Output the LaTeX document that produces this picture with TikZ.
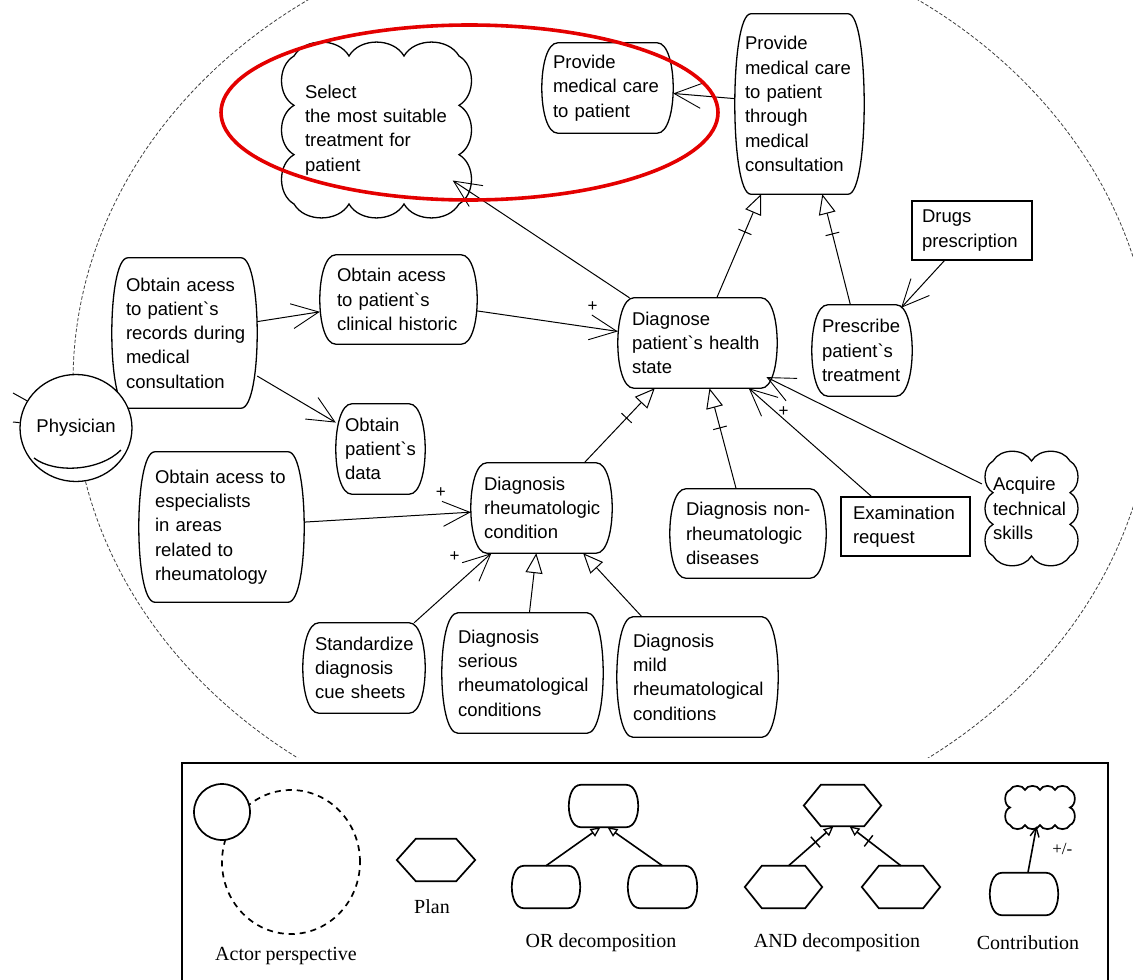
\documentclass[tikz,border=0pt]{standalone}
\usepackage{fontspec}
\newfontfamily\diafont{Liberation Sans}
\newfontfamily\legfont{Liberation Serif}
\usetikzlibrary{arrows.meta,shapes.geometric,decorations.markings,calc}

\definecolor{markred}{RGB}{228,0,0}
\newcommand\grv{\textasciigrave}
\newcommand\diatext{\diafont\fontsize{18.5}{24.3}\selectfont\hyphenpenalty=10000\exhyphenpenalty=10000\relax}
\def\cloudinset{11}
\def\cloudbend{60}

% text node covering the box x1,y1 -- x2,y2 (y grows downwards)
% #1 style, #2 name, #3 x1, #4 y1, #5 x2, #6 y2, #7 left padding, #8 text
\newcommand\boxnode[8]{%
  \pgfmathsetmacro\bxw{#5-#3}\pgfmathsetmacro\bxh{#6-#4}\pgfmathsetmacro\bxt{#5-#3-2*#7}%
  \node[#1, minimum width=\bxw pt, minimum height=\bxh pt, text width=\bxt pt]
    (#2) at ({(#3+#5)/2},{(#4+#6)/2}) {#8};}

% goal outline: flat top and bottom, bulging sides; #1 style, #2 bulge, #3 node
\newcommand\goaloutline[3]{%
  \draw[#1] ([shift={(#2,0)}]#3.north west) -- ([shift={(-#2,0)}]#3.north east)
    .. controls ([shift={(#2/3,0)}]#3.north east) and ([shift={(#2/3,0)}]#3.south east) .. ([shift={(-#2,0)}]#3.south east)
    -- ([shift={(#2,0)}]#3.south west)
    .. controls ([shift={(-#2/3,0)}]#3.south west) and ([shift={(-#2/3,0)}]#3.north west) .. cycle;}

% plan outline: hexagon; #1 style, #2 inset of the flat edges, #3 node
\newcommand\hexline[3]{%
  \draw[#1] (#3.west) -- ([shift={(#2,0)}]#3.north west) -- ([shift={(-#2,0)}]#3.north east)
    -- (#3.east) -- ([shift={(-#2,0)}]#3.south east) -- ([shift={(#2,0)}]#3.south west) -- cycle;}

% softgoal outline: scalloped box; #1 style, #2..#5 box, #6 bumps across, #7 bumps down
\newcommand\cloudline[7]{%
  \pgfmathsetmacro\cldxa{#2+\cloudinset}\pgfmathsetmacro\cldya{#3+\cloudinset}%
  \pgfmathsetmacro\cldxb{#4-\cloudinset}\pgfmathsetmacro\cldyb{#5-\cloudinset}%
  \draw[#1] (\cldxa,\cldya)
    \foreach \i in {1,...,#6} { to[bend left=\cloudbend] ({\cldxa+\i*(\cldxb-\cldxa)/#6},\cldya) }
    \foreach \i in {1,...,#7} { to[bend left=\cloudbend] (\cldxb,{\cldya+\i*(\cldyb-\cldya)/#7}) }
    \foreach \i in {1,...,#6} { to[bend left=\cloudbend] ({\cldxb-\i*(\cldxb-\cldxa)/#6},\cldyb) }
    \foreach \i in {1,...,#7} { to[bend left=\cloudbend] (\cldxa,{\cldyb-\i*(\cldyb-\cldya)/#7}) } -- cycle;}

\newcommand\goal[7]{\boxnode{intext}{#1}{#2}{#3}{#4}{#5}{#6}{#7}\goaloutline{goalline}{16}{#1}}
\newcommand\softgoal[9]{\boxnode{intext}{#1}{#2}{#3}{#4}{#5}{#6}{#9}\cloudline{goalline}{#2}{#3}{#4}{#5}{#7}{#8}}

\begin{document}
\begin{tikzpicture}[x=1pt,y=-1pt,
  intext/.style={draw=none, inner xsep=0pt, inner ysep=0pt, align=left, font=\diatext},
  rectbox/.style={intext, draw=black, line width=1.3pt},
  goalline/.style={draw=black, line width=1.3pt},
  contrib/.style={line width=1pt, -{Straight Barb[length=27pt,width=25pt,line width=0.9pt]}},
  decomp/.style={line width=1pt, -{Triangle[open,length=20pt,width=17pt,line width=1pt]}},
  andlink/.style={decomp, postaction={decorate},
    decoration={markings, mark=at position -41pt with {\draw[-,line width=1pt] (0pt,-7pt) -- (0pt,7pt);}}},
  plus/.style={font=\diafont\fontsize{17}{17}\selectfont, inner sep=0pt},
  actor/.style={ellipse, draw=black, line width=1.3pt, fill=white, inner sep=0pt,
    minimum width=96pt, minimum height=107pt, font=\diatext},
  boundary/.style={draw=black!75, line width=0.8pt, dash pattern=on 3.5pt off 2pt},
  redmark/.style={draw=markred, line width=3.6pt},
  legframe/.style={draw=black, line width=2.6pt, fill=white},
  legline/.style={draw=black, line width=1.7pt},
  legtext/.style={font=\legfont\fontsize{20}{22}\selectfont, inner sep=0pt},
  blank/.style={draw=none, inner sep=0pt},
  legdecomp/.style={line width=1.6pt, -{Triangle[open,length=10pt,width=9pt,line width=1.3pt]}},
  legand/.style={legdecomp, postaction={decorate},
    decoration={markings, mark=at position -24pt with {\draw[-,line width=1.4pt] (0pt,-7pt) -- (0pt,7pt);}}},
  legcontrib/.style={line width=1.6pt, -{Straight Barb[length=9pt,width=9pt,line width=1.4pt]}}
]
\fill[white] (0,0) rectangle (1133,980);
\useasboundingbox (0,0) rectangle (1133,980);

% actor boundary of the physician
\begin{scope}
  \clip (0,0) rectangle (1133,757);
  \draw[boundary] (613,382) ellipse [x radius=540, y radius=463];
\end{scope}

% goals, softgoals and resources
\goal{provide}{542}{43}{673}{133}{11}{Provide\\medical~care\\to~patient}
\goal{consult}{735}{14}{864}{194}{10}{Provide\\medical~care\\to~patient\\through\\medical\\consultation}
\boxnode{rectbox}{drugs}{912}{201}{1032}{260}{10}{Drugs\\prescription}
\goal{prescribe}{812}{305}{912}{396}{10}{Prescribe\\patient\grv s\\treatment}
\goal{diag}{618}{298}{777}{388}{14}{Diagnose\\patient\grv s~health\\state}
\goal{historic}{320}{255}{477}{344}{17}{Obtain~acess\\to~patient\grv s\\clinical~historic}
\goal{records}{112}{258}{257}{408}{14}{Obtain~acess\\to~patient\grv s\\records~during\\medical\\consultation}
\goal{data}{336}{404}{425}{494}{9}{Obtain\\patient\grv s\\data}
\goal{espec}{139}{452}{304}{602}{16}{Obtain~acess~to\\especialists\\in~areas\\related~to\\rheumatology}
\goal{rheum}{471}{463}{612}{553}{13}{Diagnosis\\rheumatologic\\condition}
\goal{nonrheum}{670}{489}{826}{578}{16}{Diagnosis~non-\\rheumatologic\\diseases}
\boxnode{rectbox}{exam}{841}{497}{970}{556}{12}{Examination\\request}
\softgoal{skills}{982}{450}{1081}{567}{11}{2}{3}{Acquire\\technical\\skills}
\goal{cuesheets}{303}{623}{425}{713}{12}{Standardize\\diagnosis\\cue~sheets}
\goal{serious}{442}{613}{603}{733}{16}{Diagnosis\\serious\\rheumatological\\conditions}
\goal{mild}{617}{617}{778}{737}{16}{Diagnosis\\mild\\rheumatological\\conditions}
\softgoal{select}{283}{45}{470}{215}{22}{3}{3}{Select\\the~most~suitable\\treatment~for\\patient}

% the actor
\node[actor] (physician) at (76,428) {Physician};
\draw[goalline] (34,458) .. controls (55,474) and (100,471) .. (121,450);
\coordinate (offa) at (13,393);
\coordinate (offb) at (13,422);
\draw[line width=1pt] (offa) -- (physician);
\draw[line width=1pt] (offb) -- (physician);

% links
\draw[contrib] (consult) -- (provide);
\draw[andlink] (diag) -- (consult);
\draw[andlink] (prescribe) -- (consult);
\draw[contrib, shorten >=-4pt] (drugs) -- (prescribe);
\draw[contrib] (records) -- (historic);
\draw[contrib] (records) -- (data);
\draw[contrib] (historic) -- (diag) node[plus, pos=0.82, yshift=21pt] (plusa) {+};
\draw[contrib, shorten >=-21pt] (diag) -- (select);
\draw[andlink] (rheum) -- (diag);
\draw[andlink] (nonrheum) -- (diag);
\draw[contrib] (exam) -- (diag) node[plus, pos=0.78, xshift=8pt] (plusb) {+};
\draw[contrib, shorten >=-12pt] (skills) -- (diag);
\draw[contrib] (espec) -- (rheum) node[plus, pos=0.82, yshift=21pt] (plusc) {+};
\draw[contrib] (cuesheets) -- (rheum) node[plus, pos=0.95, xshift=-33pt] (plusd) {+};
\draw[decomp] (serious) -- (rheum);
\draw[decomp] (mild) -- (rheum);

% highlight
\draw[redmark] (469.5,112.5) ellipse [x radius=248.5, y radius=87.5];

% legend
\draw[legframe] (182,763) rectangle (1108,1000);
\node[legline, ellipse, dash pattern=on 6pt off 5pt, minimum width=138pt, minimum height=144pt, inner sep=0pt] (lgview) at (291,862) {};
\node[legline, circle, fill=white, minimum size=56pt, inner sep=0pt] (lgactor) at (222,812) {};
\node[legtext] (lgtactor) at (286,956) {Actor perspective};

\boxnode{blank}{lgplan}{397}{839}{475}{881}{0}{}
\hexline{legline}{19}{lgplan}
\node[legtext] (lgtplan) at (432,907) {Plan};

\boxnode{blank}{lgortop}{569}{785}{638}{827}{0}{}
\goaloutline{legline}{12}{lgortop}
\boxnode{blank}{lgorl}{512}{866}{580}{908}{0}{}
\goaloutline{legline}{12}{lgorl}
\boxnode{blank}{lgorr}{628}{866}{697}{908}{0}{}
\goaloutline{legline}{12}{lgorr}
\draw[legdecomp] (lgorl.north) -- ([shift={(-3,0)}]lgortop.south);
\draw[legdecomp] (lgorr.north) -- ([shift={(4,0)}]lgortop.south);
\node[legtext] (lgtor) at (601,943) {OR decomposition};

\boxnode{blank}{lgandtop}{804}{785}{881}{826}{0}{}
\hexline{legline}{17}{lgandtop}
\boxnode{blank}{lgandl}{745}{866}{822}{908}{0}{}
\hexline{legline}{17}{lgandl}
\boxnode{blank}{lgandr}{862}{866}{940}{908}{0}{}
\hexline{legline}{17}{lgandr}
\draw[legand] ([shift={(5,0)}]lgandl.north) -- ([shift={(-9,0)}]lgandtop.south);
\draw[legand] (lgandr.north) -- ([shift={(7,0)}]lgandtop.south);
\node[legtext] (lgtand) at (837,943) {AND decomposition};

\def\cloudinset{5}
\def\cloudbend{70}
\boxnode{blank}{lgcloud}{1005}{785}{1075}{830}{0}{}
\cloudline{legline}{1005}{785}{1075}{830}{4}{2}
\boxnode{blank}{lggoal}{990}{873}{1058}{915}{0}{}
\goaloutline{legline}{12}{lggoal}
\draw[legcontrib, shorten >=-4pt] (lggoal) -- (lgcloud)
  node[legtext, font=\legfont\fontsize{17}{17}\selectfont, pos=0.55, xshift=30pt] (lgtpm) {+/-};
\node[legtext] (lgtcontrib) at (1028,943) {Contribution};
\end{tikzpicture}
\end{document}
